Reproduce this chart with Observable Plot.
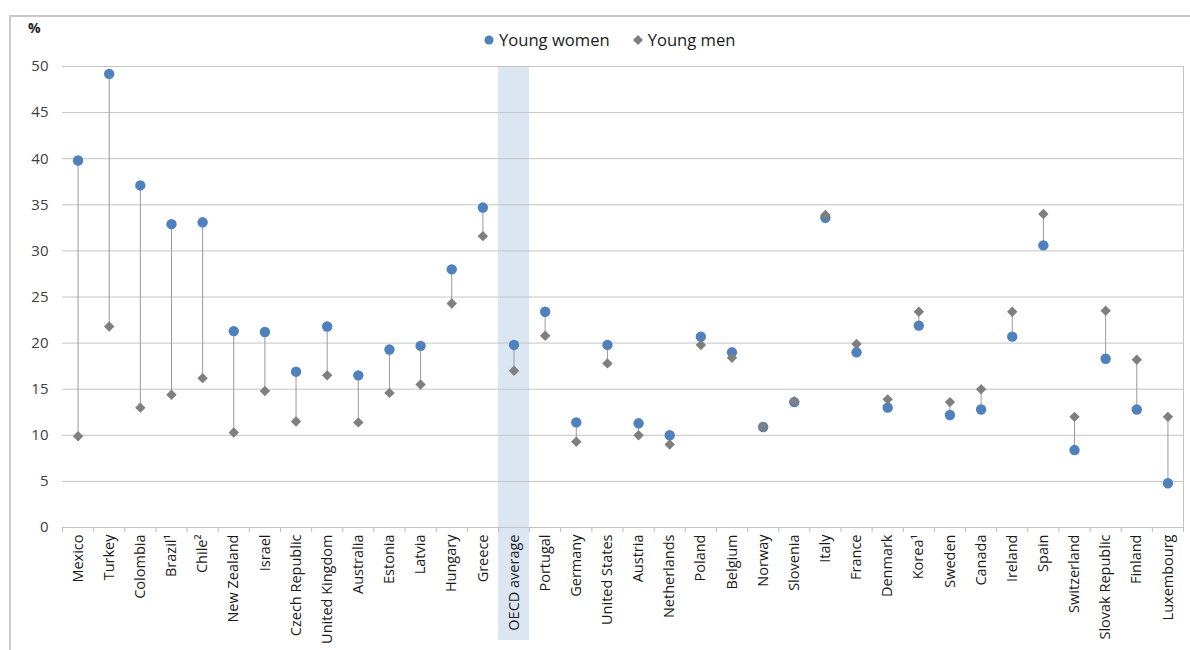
<!DOCTYPE html>
<html>
<head>
<meta charset="utf-8">
<script src="https://cdn.jsdelivr.net/npm/d3@7"></script>
<script src="https://cdn.jsdelivr.net/npm/@observablehq/plot@0.6"></script>
<style>
  html, body { margin: 0; padding: 0; background: #fff; }
  #wrap { position: relative; width: 1190px; height: 650px; overflow: hidden; font-family: "Open Sans", "Liberation Sans", sans-serif; }
  #frame { position: absolute; left: 9px; top: 15px; width: 1300px; height: 800px; border-top: 2px solid #c9c9c9; border-left: 2px solid #c9c9c9; }
  #pct { position: absolute; left: 28px; top: 18px; font-size: 14px; font-weight: bold; color: #222; }
  #legend { position: absolute; left: 483px; top: 28px; display: flex; align-items: center; font-size: 16.6px; color: #1a1a1a; white-space: nowrap; }
  #legend .item { display: flex; align-items: center; }
  #legend svg { margin-right: 4px; }
  #chart { position: absolute; left: 0; top: 0; }
</style>
</head>
<body>
<div id="wrap">
  <div id="frame"></div>
  <div id="chart"></div>
  <div id="pct">%</div>
  <div id="legend">
    <div class="item"><svg width="12" height="12"><circle cx="6" cy="6" r="4.5" fill="#4f81bd"/></svg><span>Young women</span></div>
    <div class="item" style="margin-left:22px"><svg width="12" height="12"><path d="M6,1L11,6L6,11L1,6Z" fill="#7f7f7f"/></svg><span>Young men</span></div>
  </div>
</div>
<script>
const countries = ["Mexico","Turkey","Colombia","Brazil¹","Chile²","New Zealand","Israel","Czech Republic","United Kingdom","Australia","Estonia","Latvia","Hungary","Greece","OECD average","Portugal","Germany","United States","Austria","Netherlands","Poland","Belgium","Norway","Slovenia","Italy","France","Denmark","Korea¹","Sweden","Canada","Ireland","Spain","Switzerland","Slovak Republic","Finland","Luxembourg"];
const youngWomen = [39.8, 49.2, 37.1, 32.9, 33.1, 21.3, 21.2, 16.9, 21.8, 16.5, 19.3, 19.7, 28.0, 34.7, 19.8, 23.4, 11.4, 19.8, 11.3, 10.0, 20.7, 19.0, 10.9, 13.6, 33.6, 19.0, 13.0, 21.9, 12.2, 12.8, 20.7, 30.6, 8.4, 18.3, 12.8, 4.8];
const youngMen = [9.9, 21.8, 13.0, 14.4, 16.2, 10.3, 14.8, 11.5, 16.5, 11.4, 14.6, 15.5, 24.3, 31.6, 17.0, 20.8, 9.3, 17.8, 10.0, 9.0, 19.8, 18.4, 10.9, 13.7, 33.9, 19.9, 13.9, 23.4, 13.6, 15.0, 23.4, 34.0, 12.0, 23.5, 18.2, 12.0];
const yTicks = [0, 5, 10, 15, 20, 25, 30, 35, 40, 45, 50];
const highlight = "OECD average";

const data = countries.map((c, i) => ({i, country: c, women: youngWomen[i], men: youngMen[i]}));
const n = countries.length;
const hi = countries.indexOf(highlight);
const boundaries = d3.range(n + 1).map(k => k - 0.5);
const yMax = d3.max(yTicks);

const chart = Plot.plot({
  width: 1190,
  height: 650,
  marginTop: 66,
  marginBottom: 123,
  marginLeft: 62,
  marginRight: 7,
  style: {background: "transparent", fontFamily: "'Open Sans', 'Liberation Sans', sans-serif", overflow: "visible"},
  x: {type: "linear", domain: [-0.5, n - 0.5]},
  y: {domain: [0, yMax]},
  marks: [
    Plot.rect([hi], {x1: d => d - 0.5, x2: d => d + 0.5, y1: 0, y2: yMax, fill: "#dce6f2", insetBottom: -113}),
    Plot.ruleY(yTicks, {stroke: "#c4c4c4", strokeWidth: 1}),
    Plot.ruleX([n - 0.5], {y1: 0, y2: yMax, stroke: "#c4c4c4"}),
    Plot.axisX(boundaries, {tickSize: 5, tickFormat: () => "", stroke: "#bcbcbc", label: null}),
    Plot.axisX(d3.range(n), {tickFormat: k => countries[k], tickRotate: -90, tickSize: 0, tickPadding: 7, fontSize: 14.5, fill: "#1a1a1a", label: null}),
    Plot.axisY(yTicks, {tickSize: 0, tickPadding: 14, fontSize: 15, fill: "#404040", label: null}),
    Plot.ruleX(data, {x: "i", y1: "women", y2: "men", stroke: "#9a9a9a", strokeWidth: 1}),
    Plot.dot(data, {x: "i", y: "women", r: 5.2, fill: "#4f81bd", stroke: "none"}),
    Plot.dot(data, {x: "i", y: "men", symbol: "diamond2", r: 4.7, fill: "#7f7f7f", stroke: "none"})
  ]
});
document.getElementById("chart").appendChild(chart);
</script>
</body>
</html>
